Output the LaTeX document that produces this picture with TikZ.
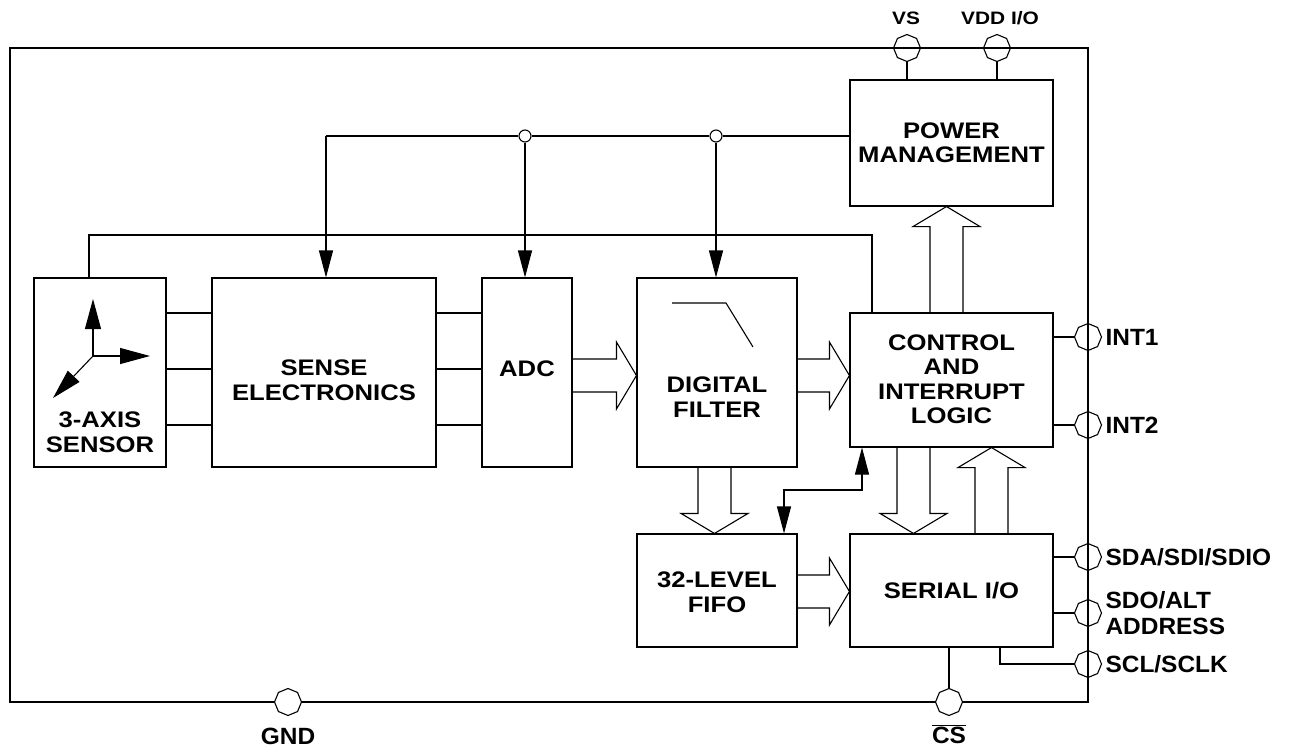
\documentclass[tikz,border=0pt]{standalone}
\usepackage{fontspec}
\setmainfont{Liberation Sans}
\newfontfamily\blkfont[FakeStretch=1.14]{Liberation Sans}
\newfontfamily\pinfont[FakeStretch=1.04]{Liberation Sans}
\newfontfamily\topfont[FakeStretch=1.16]{Liberation Sans}
\usetikzlibrary{arrows.meta,shapes.geometric,calc}
\begin{document}
\begin{tikzpicture}[x=1pt,y=-1pt,line width=1.1pt,
  blk/.style={draw, inner sep=0pt},
  txt/.style={align=center, inner sep=0pt, font=\blkfont\fontsize{22.5}{24.5}\selectfont\bfseries},
  pin/.style={draw, regular polygon, regular polygon sides=8, shape border rotate=22.5, minimum size=27pt, inner sep=0pt},
  pinlbl/.style={anchor=west, align=left, inner sep=0pt, font=\pinfont\fontsize{23.5}{25.5}\selectfont\bfseries},
  toplbl/.style={inner sep=0pt, font=\topfont\fontsize{18}{20}\selectfont\bfseries},
  junc/.style={draw, circle, minimum size=12pt, inner sep=0pt},
  tip/.style={-{Triangle[length=27pt,width=14pt]}},
  bitip/.style={{Triangle[length=27pt,width=14pt]}-{Triangle[length=27pt,width=14pt]}},
  bigtip/.style={-{Triangle[length=30pt,width=16pt]}},
  fatR/.style={to path={let \p1=(\tikztostart),\p2=(\tikztotarget) in
    (\x1,\y1+16.5pt) -- (\x2-20pt,\y1+16.5pt) -- (\x2-20pt,\y1+33.5pt) -- (\x2,\y1)
    -- (\x2-20pt,\y1-33.5pt) -- (\x2-20pt,\y1-16.5pt) -- (\x1,\y1-16.5pt)}},
  fatD/.style={to path={let \p1=(\tikztostart),\p2=(\tikztotarget) in
    (\x1-16.5pt,\y1) -- (\x1-16.5pt,\y2+20pt) -- (\x1-33.5pt,\y2+20pt) -- (\x1,\y2)
    -- (\x1+33.5pt,\y2+20pt) -- (\x1+16.5pt,\y2+20pt) -- (\x1+16.5pt,\y1)}},
  fatU/.style={to path={let \p1=(\tikztostart),\p2=(\tikztotarget) in
    (\x1-16.5pt,\y1) -- (\x1-16.5pt,\y2-20pt) -- (\x1-33.5pt,\y2-20pt) -- (\x1,\y2)
    -- (\x1+33.5pt,\y2-20pt) -- (\x1+16.5pt,\y2-20pt) -- (\x1+16.5pt,\y1)}}
]
\useasboundingbox (0,0) rectangle (1300,755);
% frame
\draw (10,48) rectangle (1088,702);

% blocks
\node[blk, minimum width=132pt, minimum height=189pt] (sensor) at (100,372.5) {};
\node[blk, minimum width=224pt, minimum height=189pt] (sense) at (324,372.5) {};
\node[blk, minimum width=90pt, minimum height=189pt] (adc) at (527,372.5) {};
\node[blk, minimum width=160pt, minimum height=189pt] (filter) at (717,372.5) {};
\node[blk, minimum width=203pt, minimum height=126pt] (power) at (951.5,143) {};
\node[blk, minimum width=203pt, minimum height=134pt] (ctrl) at (951.5,380) {};
\node[blk, minimum width=160pt, minimum height=113pt] (fifo) at (717,590.5) {};
\node[blk, minimum width=203pt, minimum height=113pt] (serial) at (951.5,590.5) {};

% block texts
\node[txt] (tsensor) at (100,432) {3-AXIS\\SENSOR};
\node[txt] (tsense) at (324,380) {SENSE\\ELECTRONICS};
\node[txt] (tadc) at (527,369) {ADC};
\node[txt] (tfilter) at (717,397) {DIGITAL\\FILTER};
\node[txt] (tpower) at (951.5,143) {POWER\\MANAGEMENT};
\node[txt] (tctrl) at (951.5,379) {CONTROL\\AND\\INTERRUPT\\LOGIC};
\node[txt] (tfifo) at (717,592) {32-LEVEL\\FIFO};
\node[txt] (tserial) at (951.5,591) {SERIAL I/O};

% sensor axes
\coordinate (ax) at (93,356);
\draw[bigtip] (ax) -- ++(0,-57);
\draw[bigtip] (ax) -- ++(57,0);
\draw[bigtip] (ax) -- ++(-40,42);

% filter symbol
\draw (672,303) -- (726,303) -- (753,347);

% sensor -> sense, sense -> adc lines
\foreach \yy in {313,369,425} {
  \draw (sensor.east |- 0,\yy) -- (sense.west |- 0,\yy);
  \draw (sense.east |- 0,\yy) -- (adc.west |- 0,\yy);
}

% bus from power management
\coordinate (busL) at (326,136);
\node[junc] (j1) at (525,136) {};
\node[junc] (j2) at (716,136) {};
\draw (busL) -- (j1.west);
\draw (j1.east) -- (j2.west);
\draw (j2.east) -- (power.west |- busL);
\draw[tip] (busL) -- (busL |- sense.north);
\draw[tip] (j1.south) -- (j1 |- adc.north);
\draw[tip] (j2.south) -- (j2 |- filter.north);

% sensor wire to control
\coordinate (sw) at (89,235);
\coordinate (cw) at (872,235);
\draw (sw |- sensor.north) -- (sw) -- (cw) -- (cw |- ctrl.north);

% fat arrows
\draw[fatR] ($(adc.east)+(0,3)$) to ($(filter.west)+(0,3)$);
\draw[fatR] ($(filter.east)+(0,3)$) to ($(ctrl.west |- filter.east)+(0,3)$);
\draw[fatR] ($(fifo.east)+(0,1)$) to ($(serial.west)+(0,1)$);
\draw[fatD] ($(filter.south)+(-2.5,0)$) to ($(fifo.north)+(-2.5,0)$);
\draw[fatU] ($(ctrl.north)+(-5,0)$) to ($(power.south)+(-5,0)$);
\draw[fatD] ($(ctrl.south)+(-38,0)$) to ($(serial.north)+(-38,0)$);
\draw[fatU] ($(serial.north)+(40,0)$) to ($(ctrl.south)+(40,0)$);

% bidirectional fifo <-> control
\coordinate (b1) at (784,490);
\coordinate (b2) at (862,490);
\draw[bitip] (b1 |- fifo.north) -- (b1) -- (b2) -- (b2 |- ctrl.south);

% pins
\node[pin] (vs) at (907,48) {};
\node[pin] (vdd) at (997,48) {};
\node[pin] (int1) at (1088,337) {};
\node[pin] (int2) at (1088,425) {};
\node[pin] (sda) at (1088,557) {};
\node[pin] (sdo) at (1088,613) {};
\node[pin] (scl) at (1088,664) {};
\node[pin, fill=white] (gnd) at (288,702) {};
\node[pin, fill=white] (cs) at (949,702) {};

\draw (vs.south) -- (vs.south |- power.north);
\draw (vdd.south) -- (vdd.south |- power.north);
\draw (int1 -| ctrl.east) -- (int1.west);
\draw (int2 -| ctrl.east) -- (int2.west);
\draw (sda -| serial.east) -- (sda.west);
\draw (sdo -| serial.east) -- (sdo.west);
\coordinate (sclc) at (1000,664);
\draw (sclc |- serial.south) -- (sclc) -- (scl.west);
\draw (cs.north) -- (cs.north |- serial.south);

% pin labels
\node[toplbl] (lvs) at (906,18) {VS};
\node[toplbl] (lvdd) at (1000,18) {VDD I/O};
\node[pinlbl] (lint1) at (1105,337) {INT1};
\node[pinlbl] (lint2) at (1105,425) {INT2};
\node[pinlbl] (lsda) at (1105,557) {SDA/SDI/SDIO};
\node[pinlbl] (lsdo) at (1105,613) {SDO/ALT\\ADDRESS};
\node[pinlbl] (lscl) at (1105,664) {SCL/SCLK};
\node[inner sep=0pt, font=\pinfont\fontsize{23.5}{25.5}\selectfont\bfseries] (lgnd) at (288,736) {GND};
\node[inner sep=0pt, font=\pinfont\fontsize{23.5}{25.5}\selectfont\bfseries] (lcs) at (949,734) {$\overline{\hbox{\pinfont\bfseries CS}}$};
\end{tikzpicture}
\end{document}
